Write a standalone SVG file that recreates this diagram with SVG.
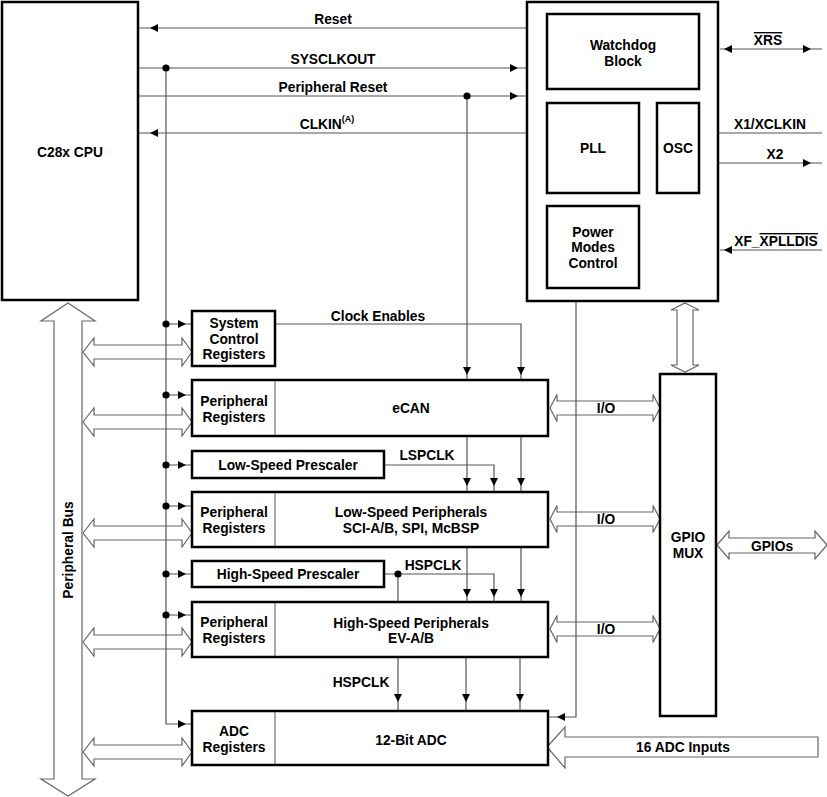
<svg xmlns="http://www.w3.org/2000/svg" xmlns:xlink="http://www.w3.org/1999/xlink" width="827" height="797" viewBox="0 0 827 797">
<style>
text{font-family:"Liberation Sans",Arial,sans-serif;font-weight:bold;font-size:13.8px;fill:#000;text-anchor:middle}
.box{fill:#fff;stroke:#000;stroke-width:2.5}
.div{stroke:#555;stroke-width:1}
.ln{fill:none;stroke:#555;stroke-width:1.2}
.ba{fill:#fff;stroke:#666;stroke-width:1.2;stroke-linejoin:miter}
.hd{fill:#000}
.ov{text-decoration:overline}
</style>
<defs>
<path id="ar" class="hd" d="M0,0 L-8,-4 L-8,4 Z"/>
<path id="al" class="hd" d="M0,0 L8,-4 L8,4 Z"/>
<path id="ad" class="hd" d="M0,0 L-4,-8 L4,-8 Z"/>
<circle id="dot" r="3.6" fill="#000"/>
</defs>

<!-- block arrows -->
<g id="bus-arrows">
<polygon class="ba" points="68,303 95,321 82,321 82,779 95,779 68,796 41,779 54,779 54,321 41,321"/>
<polygon class="ba" points="83,352 94,338 94,345 182,345 182,338 192,352 182,366 182,359 94,359 94,366"/>
<polygon class="ba" points="83,422 94,408 94,415 182,415 182,408 192,422 182,436 182,429 94,429 94,436"/>
<polygon class="ba" points="83,533 94,519 94,526 182,526 182,519 192,533 182,547 182,540 94,540 94,547"/>
<polygon class="ba" points="83,642 94,628 94,635 182,635 182,628 192,642 182,656 182,649 94,649 94,656"/>
<polygon class="ba" points="83,752 94,738 94,745 182,745 182,738 192,752 182,766 182,759 94,759 94,766"/>
<polygon class="ba" points="550,408 557,394.5 557,401 653,401 653,394.5 660,408 653,421.5 653,415 557,415 557,421.5"/>
<polygon class="ba" points="550,519 557,505.5 557,512 653,512 653,505.5 660,519 653,532.5 653,526 557,526 557,532.5"/>
<polygon class="ba" points="550,629 557,615.5 557,622 653,622 653,615.5 660,629 653,642.5 653,636 557,636 557,642.5"/>
<polygon class="ba" points="685,303 699,310 693,310 693,365 699,365 685,372 671,365 677,365 677,310 671,310"/>
<polygon class="ba" points="717,545 729,531 729,538 815,538 815,531 827,545 815,559 815,553 729,553 729,559"/>
<polygon class="ba" points="547,747 565,727 565,737 818,737 818,757 565,757 565,768"/>
</g>

<!-- connectors -->
<g id="connectors">
<path class="ln" d="M527,28 H138 M138,68 H527 M138,96 H527 M527,133 H138"/>
<path class="ln" d="M166,68 V724 H192"/>
<path class="ln" d="M467,96 V380"/>
<path class="ln" d="M166,324 H192 M166,395 H192 M166,465 H192 M166,506 H192 M166,574 H192 M166,615 H192"/>
<path class="ln" d="M275,324 H521 V380"/>
<path class="ln" d="M467,436 V492 M521,436 V492 M384,465 H494 V492"/>
<path class="ln" d="M467,547 V602 M521,547 V602 M384,574 H494 V602 M398,574 V711"/>
<path class="ln" d="M466,657 V711 M520,657 V711"/>
<path class="ln" d="M576,301 V717 H548"/>
<path class="ln" d="M720,49 H822 M700,133 H822 M700,163 H822 M720,250 H822"/>
<use href="#al" x="150" y="28"/>
<use href="#ar" x="518" y="68"/>
<use href="#ar" x="518" y="96"/>
<use href="#al" x="150" y="133"/>
<use href="#dot" x="166" y="68"/>
<use href="#dot" x="467" y="96"/>
<use href="#dot" x="166" y="324"/>
<use href="#dot" x="166" y="395"/>
<use href="#dot" x="166" y="465"/>
<use href="#dot" x="166" y="506"/>
<use href="#dot" x="166" y="574"/>
<use href="#dot" x="166" y="615"/>
<use href="#dot" x="398" y="574"/>
<use href="#ar" x="186" y="324"/>
<use href="#ar" x="186" y="395"/>
<use href="#ar" x="186" y="465"/>
<use href="#ar" x="186" y="506"/>
<use href="#ar" x="186" y="574"/>
<use href="#ar" x="186" y="615"/>
<use href="#ar" x="186" y="724"/>
<use href="#ad" x="467" y="375"/>
<use href="#ad" x="521" y="375"/>
<use href="#ad" x="467" y="486"/>
<use href="#ad" x="494" y="486"/>
<use href="#ad" x="521" y="486"/>
<use href="#ad" x="467" y="597"/>
<use href="#ad" x="494" y="597"/>
<use href="#ad" x="521" y="597"/>
<use href="#ad" x="398" y="702"/>
<use href="#ad" x="466" y="702"/>
<use href="#ad" x="520" y="702"/>
<use href="#al" x="557" y="717"/>
<use href="#al" x="724" y="49"/>
<use href="#ar" x="811" y="49"/>
<use href="#al" x="704" y="133"/>
<use href="#ar" x="811" y="163"/>
<use href="#al" x="724" y="250"/>
<text x="333" y="24">Reset</text>
<text x="333" y="64">SYSCLKOUT</text>
<text x="333" y="92">Peripheral Reset</text>
<text x="327" y="129">CLKIN<tspan font-size="9" dy="-7">(A)</tspan></text>
<text x="768" y="45"><tspan class="ov">XRS</tspan></text>
<text x="770" y="129">X1/XCLKIN</text>
<text x="775" y="159">X2</text>
<text x="776" y="246">XF_<tspan class="ov">XPLLDIS</tspan></text>
<text x="378" y="321">Clock Enables</text>
<text x="427" y="460">LSPCLK</text>
<text x="433" y="570">HSPCLK</text>
<text x="361" y="687">HSPCLK</text>
<text x="606" y="413">I/O</text>
<text x="606" y="524">I/O</text>
<text x="606" y="634">I/O</text>
<text x="772" y="551">GPIOs</text>
<text x="683" y="752">16 ADC Inputs</text>
<text transform="translate(73,550) rotate(-90)">Peripheral Bus</text>
</g>

<g id="cpu">
<rect class="box" x="2" y="2" width="136" height="298"/>
<text x="70" y="157">C28x CPU</text>
</g>

<g id="sysblock">
<rect class="box" x="527" y="2" width="191" height="299"/>
</g>
<g id="watchdog">
<rect class="box" x="547" y="14" width="152" height="75"/>
<text x="623" y="50">Watchdog</text>
<text x="623" y="66">Block</text>
</g>
<g id="pll">
<rect class="box" x="547" y="103" width="92" height="90"/>
<text x="593" y="153">PLL</text>
</g>
<g id="osc">
<rect class="box" x="657" y="103" width="42" height="90"/>
<text x="678" y="153">OSC</text>
</g>
<g id="power">
<rect class="box" x="547" y="206" width="92" height="82"/>
<text x="593" y="237">Power</text>
<text x="593" y="252">Modes</text>
<text x="593" y="268">Control</text>
</g>

<g id="sysctrl">
<rect class="box" x="192" y="311" width="83" height="55"/>
<text x="234" y="328">System</text>
<text x="234" y="344">Control</text>
<text x="234" y="359">Registers</text>
</g>

<g id="ecan">
<rect class="box" x="192" y="380" width="356" height="56"/>
<line class="div" x1="275" y1="381" x2="275" y2="435"/>
<text x="234" y="406">Peripheral</text>
<text x="234" y="422">Registers</text>
<text x="411" y="413">eCAN</text>
</g>

<g id="lsprescaler">
<rect class="box" x="192" y="451" width="192" height="27"/>
<text x="288" y="470">Low-Speed Prescaler</text>
</g>

<g id="lsperiph">
<rect class="box" x="192" y="492" width="356" height="55"/>
<line class="div" x1="275" y1="493" x2="275" y2="546"/>
<text x="234" y="517">Peripheral</text>
<text x="234" y="533">Registers</text>
<text x="411" y="517">Low-Speed Peripherals</text>
<text x="411" y="533">SCI-A/B, SPI, McBSP</text>
</g>

<g id="hsprescaler">
<rect class="box" x="192" y="561" width="192" height="26"/>
<text x="288" y="579">High-Speed Prescaler</text>
</g>

<g id="hsperiph">
<rect class="box" x="192" y="602" width="356" height="55"/>
<line class="div" x1="275" y1="603" x2="275" y2="656"/>
<text x="234" y="627">Peripheral</text>
<text x="234" y="643">Registers</text>
<text x="411" y="628">High-Speed Peripherals</text>
<text x="411" y="643">EV-A/B</text>
</g>

<g id="adc">
<rect class="box" x="192" y="711" width="356" height="54"/>
<line class="div" x1="275" y1="712" x2="275" y2="764"/>
<text x="234" y="736">ADC</text>
<text x="234" y="752">Registers</text>
<text x="411" y="745">12-Bit ADC</text>
</g>

<g id="gpiomux">
<rect class="box" x="660" y="374" width="56" height="342"/>
<text x="688" y="542">GPIO</text>
<text x="688" y="558">MUX</text>
</g>
</svg>
